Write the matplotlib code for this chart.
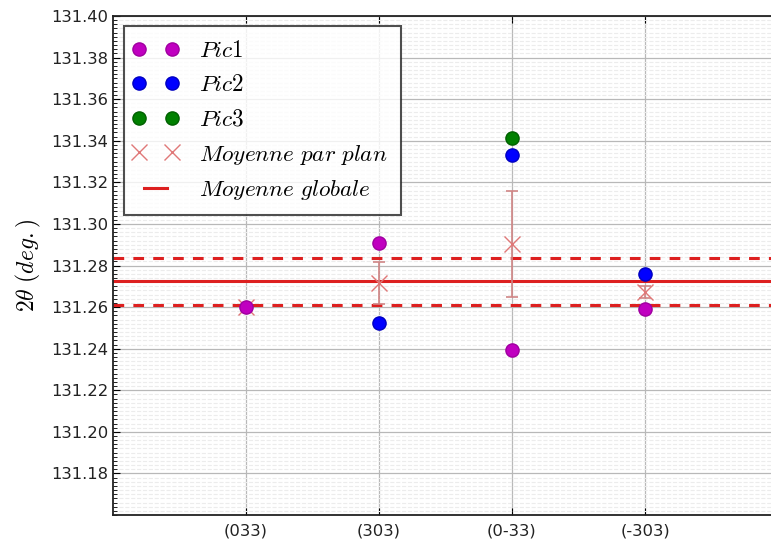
import numpy as np
import matplotlib
matplotlib.use("Agg")
import matplotlib.pyplot as plt
from matplotlib.ticker import MultipleLocator
from matplotlib.legend_handler import HandlerLine2D

plt.rcParams['mathtext.fontset'] = 'cm'
plt.rcParams['font.family'] = ['DejaVu Sans']

planes = ["(033)", "(303)", "(0-33)", "(-303)"]
pic1 = [131.260, 131.291, 131.2395, 131.2593]
pic2 = [np.nan, 131.2523, 131.3331, 131.2758]
pic3 = [np.nan, np.nan, 131.3411, np.nan]
mean_plane = [131.260, 131.2716, 131.2905, 131.2673]
err_plane = [0.0, 0.0103, 0.0255, 0.003]
mean_global = 131.2724
global_lo = 131.2609
global_hi = 131.2836
yticks = [131.18, 131.20, 131.22, 131.24, 131.26, 131.28, 131.30,
          131.32, 131.34, 131.36, 131.38, 131.40]

fig = plt.figure(figsize=(7.71, 5.39), dpi=100)
ax = fig.add_axes([113/771, 1 - 515/539, 665/771, (515 - 16)/539])

x = np.arange(1, len(planes) + 1)

ax.grid(True, which='major', color='#b8b8b8', linestyle='-', linewidth=0.9, zorder=5)
ax.grid(True, which='minor', axis='y', color='#ececec', linestyle='--', linewidth=0.8, zorder=0.5)

h_glob, = ax.plot([0, 5], [mean_global, mean_global], color='#dd2020', linewidth=2.2, zorder=2,
                  label=r'$Moyenne\ globale$')
ax.axhline(global_hi, color='#dd2020', linewidth=2.2, linestyle=(0, (3.5, 3)), zorder=2)
ax.axhline(global_lo, color='#dd2020', linewidth=2.2, linestyle=(0, (3.5, 3)), zorder=2)

ax.errorbar(x, mean_plane, yerr=err_plane, fmt='none', ecolor='#d08585',
            elinewidth=1.2, capsize=4, capthick=1.2, zorder=2.6)
h_mean, = ax.plot(x, mean_plane, 'x', color='#e07878', markersize=12, markeredgewidth=1.0,
                  linestyle='none', zorder=2.7, label=r'$Moyenne\ par\ plan$')

ms = 9.5
h1, = ax.plot(x, pic1, 'o', color='#c000c0', markeredgecolor='#a000a0', markersize=ms,
              linestyle='none', zorder=3, label=r'$Pic1$')
h2, = ax.plot(x, pic2, 'o', color='#0000ff', markeredgecolor='#0000c0', markersize=ms,
              linestyle='none', zorder=3, label=r'$Pic2$')
h3, = ax.plot(x, pic3, 'o', color='#008000', markeredgecolor='#006000', markersize=ms,
              linestyle='none', zorder=3, label=r'$Pic3$')

ax.set_xlim(0, 5)
ax.set_ylim(131.16, 131.40)
ax.set_xticks(x)
ax.set_xticklabels(planes)
ax.set_yticks(yticks)
ax.set_yticklabels([f"{v:.2f}" for v in yticks])
ax.yaxis.set_minor_locator(MultipleLocator(0.002))
ax.tick_params(axis='both', which='major', direction='in', length=5, top=True, right=True,
               labelsize=11.8, colors='black', labelcolor='#222222')
ax.tick_params(axis='y', which='minor', direction='in', length=3, right=True)
ax.tick_params(axis='x', which='major', pad=6)
for s in ax.spines.values():
    s.set_linewidth(1.3)
    s.set_color('#222222')

ax.set_ylabel(r'$2\theta\ (deg.)$', fontsize=17, labelpad=6)

hm = {h: HandlerLine2D(marker_pad=0.08, numpoints=2) for h in [h1, h2, h3, h_mean]}
leg = ax.legend([h1, h2, h3, h_mean, h_glob],
                [h.get_label() for h in [h1, h2, h3, h_mean, h_glob]],
                loc='upper left', numpoints=2, fontsize=16.7, frameon=True, fancybox=False,
                borderpad=0.55, labelspacing=0.5, handlelength=1.6, handletextpad=1.1,
                borderaxespad=0.0, bbox_to_anchor=(11/665, 1 - 10/499), handler_map=hm)
leg.get_frame().set_edgecolor('#222222')
leg.get_frame().set_linewidth(1.5)
leg.set_zorder(10)

fig.savefig('out.png', dpi=100)
